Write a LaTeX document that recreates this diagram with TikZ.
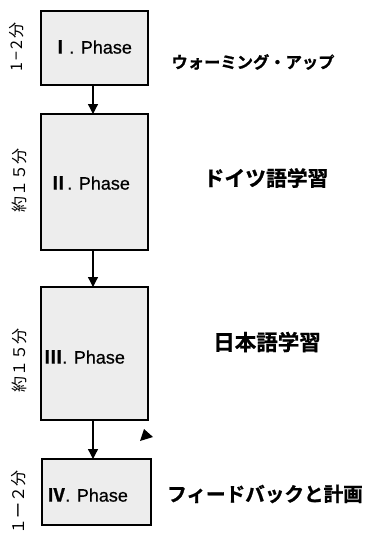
\documentclass[tikz,border=0pt]{standalone}
\usepackage{fontspec}
\setmainfont{Liberation Sans}
\newfontfamily\phasefont[FakeBold=0.7]{Liberation Sans}
\newfontfamily\cjk{Noto Sans CJK JP}
\newfontfamily\cjksp[LetterSpace=12]{Noto Sans CJK JP}
\newfontfamily\cjkb{Noto Sans CJK JP Bold}
\newfontfamily\cjkbb[FakeBold=1]{Noto Sans CJK JP Bold}
\usetikzlibrary{arrows.meta,calc}
\definecolor{boxfill}{HTML}{EDEDED}
\tikzset{
  phasebox/.style={draw=black,line width=1.3pt,fill=boxfill,anchor=north west,inner sep=0pt,outer sep=0pt},
  flow/.style={line width=1.3pt,-{Triangle[length=10pt,width=10pt]}},
  phasetext/.style={anchor=west,inner sep=0pt,font=\phasefont\fontsize{18}{20}\selectfont},
  sidetext/.style={rotate=90,inner sep=0pt,font=\cjk\fontsize{16}{18}\selectfont},
  righttext/.style={inner sep=0pt}
}
\begin{document}
\begin{tikzpicture}[x=1pt,y=-1pt]
\useasboundingbox (0,0) rectangle (367,538);
% boxes
\node[phasebox,minimum width=107pt,minimum height=74pt] (b1) at (41,11) {};
\node[phasebox,minimum width=107pt,minimum height=136pt] (b2) at (41,114) {};
\node[phasebox,minimum width=107pt,minimum height=133pt] (b3) at (41,287) {};
\node[phasebox,minimum width=109pt,minimum height=66pt] (b4) at (42,459) {};
% box texts
\node[phasetext] (t1) at (51,47) {{\cjkbb Ⅰ}. Phase};
\node[phasetext] (t2) at (49,183) {{\cjkbb Ⅱ}. Phase};
\node[phasetext] (t3) at (44,357) {{\cjkbb Ⅲ}. Phase};
\node[phasetext] (t4) at (47,495) {{\cjkbb Ⅳ}. Phase};
% arrows
\coordinate (a1) at ($(b1.south)+(-1.5,0)$);
\coordinate (a2) at ($(b2.south)+(-1.5,0)$);
\coordinate (a3) at ($(b3.south)+(-1.5,0)$);
\draw[flow] (a1) -- (a1 |- b2.north);
\draw[flow] (a2) -- (a2 |- b3.north);
\draw[flow] (a3) -- (a3 |- b4.north);
% stray arrowhead
\fill (144,429) -- (153,437) -- (140,441) -- cycle;
% side labels
\node[sidetext,font=\cjksp\fontsize{16}{18}\selectfont] (s1) at (17,47) {1−2分};
\node[sidetext] (s2) at (19,180) {約１５分};
\node[sidetext] (s3) at (19,360) {約１５分};
\node[sidetext] (s4) at (19,502) {１ー２分};
% right labels
\node[righttext,font=\cjkbb\fontsize{16.3}{18}\selectfont] (r1) at (253,62) {ウォーミング・アップ};
\node[righttext,font=\cjkbb\fontsize{20.8}{22}\selectfont] (r2) at (266,178) {ドイツ語学習};
\node[righttext,font=\cjkbb\fontsize{21.5}{23}\selectfont] (r3) at (267,342) {日本語学習};
\node[righttext,font=\cjkbb\fontsize{19.6}{21}\selectfont] (r4) at (265,494) {フィードバックと計画};
\end{tikzpicture}
\end{document}
